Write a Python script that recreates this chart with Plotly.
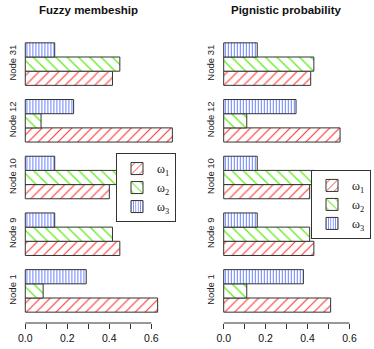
import plotly.graph_objects as go

# node labels, bottom to top as drawn
nodes = ["Node 1", "Node 9", "Node 10", "Node 12", "Node 31"]

# fuzzy membership values per class
fuzzy_w1 = [0.63, 0.45, 0.40, 0.70, 0.415]
fuzzy_w2 = [0.085, 0.415, 0.46, 0.075, 0.45]
fuzzy_w3 = [0.29, 0.14, 0.14, 0.23, 0.14]

# pignistic probability values per class
pign_w1 = [0.51, 0.43, 0.41, 0.555, 0.415]
pign_w2 = [0.11, 0.41, 0.435, 0.11, 0.43]
pign_w3 = [0.38, 0.16, 0.16, 0.345, 0.16]

class_names = ["ω<sub>1</sub>", "ω<sub>2</sub>", "ω<sub>3</sub>"]
tick_vals = [0.0, 0.1, 0.2, 0.3, 0.4, 0.5, 0.6]
tick_text = ["0.0", "", "0.2", "", "0.4", "", "0.6"]

styles = [
    dict(shape="/", fgcolor="#ff3b3b", size=7, solidity=0.17),
    dict(shape="\\", fgcolor="#66ee22", size=8, solidity=0.17),
    dict(shape="|", fgcolor="#5a74ff", size=3, solidity=0.3),
]

fig = go.Figure()

panels = [
    ([fuzzy_w1, fuzzy_w2, fuzzy_w3], "x", "y", "legend"),
    ([pign_w1, pign_w2, pign_w3], "x2", "y2", "legend2"),
]
for series, xa, ya, leg in panels:
    for vals, name, st in zip(series, class_names, styles):
        fig.add_trace(
            go.Bar(
                x=vals,
                y=nodes,
                orientation="h",
                name=name,
                xaxis=xa,
                yaxis=ya,
                legend=leg,
                hoverinfo="skip",
                marker=dict(
                    color="white",
                    line=dict(color="#333333", width=1),
                    pattern=dict(
                        shape=st["shape"],
                        fgcolor=st["fgcolor"],
                        fgopacity=1,
                        bgcolor="white",
                        size=st["size"],
                        solidity=st["solidity"],
                        fillmode="overlay",
                    ),
                ),
            )
        )

font = "Liberation Sans, Arial, sans-serif"
xcommon = dict(
    tickvals=tick_vals,
    ticktext=tick_text,
    ticks="outside",
    ticklen=5,
    tickcolor="#333333",
    showline=False,
    showgrid=False,
    zeroline=False,
    automargin=False,
    tickfont=dict(size=10.5, color="#111111", family=font),
    anchor="free",
)
ycommon = dict(
    type="category",
    categoryorder="array",
    categoryarray=nodes,
    range=[-0.566, 4.566],
    tickangle=-90,
    ticks="",
    showline=False,
    showgrid=False,
    zeroline=False,
    automargin=False,
    tickfont=dict(size=9.5, color="#222222", family=font),
    ticklabelstandoff=1,
)

legcommon = dict(
    bordercolor="#333333",
    borderwidth=1,
    bgcolor="white",
    font=dict(size=12, family="Liberation Serif, Times New Roman, serif", color="#111111"),
    xanchor="right",
    yanchor="top",
    tracegroupgap=0,
    itemwidth=30,
)

fig.update_layout(
    width=374,
    height=349,
    margin=dict(l=0, r=0, t=32, b=26, autoexpand=False),
    paper_bgcolor="white",
    plot_bgcolor="white",
    barmode="group",
    bargap=0.25,
    bargroupgap=0,
    showlegend=True,
    xaxis=dict(xcommon, domain=[0.0519, 0.4749], range=[-0.028, 0.725], position=0),
    xaxis2=dict(xcommon, domain=[0.5824, 0.9906], range=[-0.028, 0.70], position=0),
    yaxis=dict(ycommon, domain=[0, 1], anchor="x"),
    yaxis2=dict(ycommon, domain=[0, 1], anchor="x2"),
    legend=dict(legcommon, x=176 / 374, y=0.584),
    legend2=dict(legcommon, x=371 / 374, y=0.526),
    annotations=[
        dict(text="<b>Fuzzy membeship</b>", x=0.237, y=1.0756, xref="paper", yref="paper",
             xanchor="center", yanchor="middle", showarrow=False,
             font=dict(size=11.5, family=font, color="#111111")),
        dict(text="<b>Pignistic probability</b>", x=0.767, y=1.0756, xref="paper", yref="paper",
             xanchor="center", yanchor="middle", showarrow=False,
             font=dict(size=11.5, family=font, color="#111111")),
    ],
    shapes=[
        dict(type="line", xref="x", yref="paper", x0=0, x1=0.6, y0=0, y1=0,
             line=dict(color="#333333", width=1)),
        dict(type="line", xref="x2", yref="paper", x0=0, x1=0.6, y0=0, y1=0,
             line=dict(color="#333333", width=1)),
    ],
)

# drop the browser's default page margin so the figure sits at the window corner
fig.write_html(
    "out.html",
    config={"displayModeBar": False},
    post_script="document.body.style.margin = '0';",
)
